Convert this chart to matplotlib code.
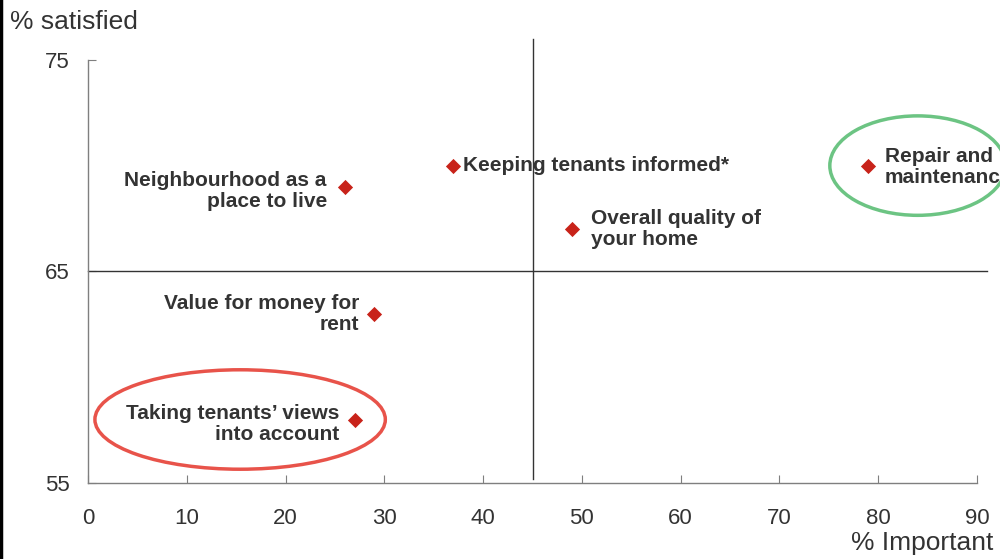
import numpy as np
import matplotlib
matplotlib.use("Agg")
import matplotlib.pyplot as plt
from matplotlib.patches import Ellipse
from matplotlib.lines import Line2D

plt.rcParams["font.family"] = ["Liberation Sans", "DejaVu Sans"]

# ── data ──────────────────────────────────────────────────────────────────
items = ["Neighbourhood as a\nplace to live",
         "Keeping tenants informed*",
         "Overall quality of\nyour home",
         "Repair and\nmaintenance",
         "Value for money for\nrent",
         "Taking tenants\u2019 views\ninto account"]
importance = [26, 37, 49, 79, 29, 27]
satisfied  = [69, 70, 67, 70, 63, 58]
x_ticks = [0, 10, 20, 30, 40, 50, 60, 70, 80, 90]
y_ticks = [55, 65, 75]
x_split, y_split = 45, 65

# label placement (offset in points, horizontal alignment)
label_pos = [(-13, -3, "right"), (7, 0, "left"), (14, 0, "left"),
             (12, -1, "left"), (-11, 0, "right"), (-11, -3, "right")]

GREY = "#7f7f7f"
TEXT = "#333333"
RED  = "#c8231a"

fig = plt.figure(figsize=(10, 5.59), dpi=100)
ax = fig.add_axes([0.088, 0.136, 0.889, 0.757])
ax.set_xlim(0, 90); ax.set_ylim(55, 75)

for s in ["top", "right"]:
    ax.spines[s].set_visible(False)
for s in ["left", "bottom"]:
    ax.spines[s].set_color(GREY); ax.spines[s].set_linewidth(1)
ax.set_xticks(x_ticks); ax.set_yticks(y_ticks)
ax.tick_params(direction="in", length=6, color=GREY, labelsize=16,
               labelcolor=TEXT)
ax.tick_params(axis="x", pad=18)
ax.tick_params(axis="y", pad=13)

# quadrant lines
ax.plot([0, 91], [y_split, y_split], color="#333333", lw=1, clip_on=False)
ax.plot([x_split, x_split], [55.2, 76], color="#333333", lw=1, clip_on=False)

ax.scatter(importance, satisfied, marker="D", s=60, color=RED, zorder=3,
           linewidths=0)
for name, x, y, (dx, dy, ha) in zip(items, importance, satisfied, label_pos):
    ax.annotate(name, (x, y), xytext=(dx, dy), textcoords="offset points",
                ha=ha, va="center", multialignment=ha, fontsize=15,
                fontweight="bold", color=TEXT, linespacing=1.15)

# highlight ellipses
ax.add_patch(Ellipse((84.0, 70.0), 17.8, 4.7, fill=False, ec="#6cc483",
                     lw=2.5, clip_on=False))
ax.add_patch(Ellipse((15.4, 58.0), 29.4, 4.7, fill=False, ec="#e8534a",
                     lw=2.5, clip_on=False))

fig.text(0.01, 0.96, "% satisfied", fontsize=19, color=TEXT, va="center")
fig.text(0.993, 0.028, "% Important", fontsize=19, color=TEXT, va="center",
         ha="right")
fig.add_artist(Line2D([0.001, 0.001], [0, 1], color="black", lw=2.5))

fig.savefig("out.png", dpi=100)
